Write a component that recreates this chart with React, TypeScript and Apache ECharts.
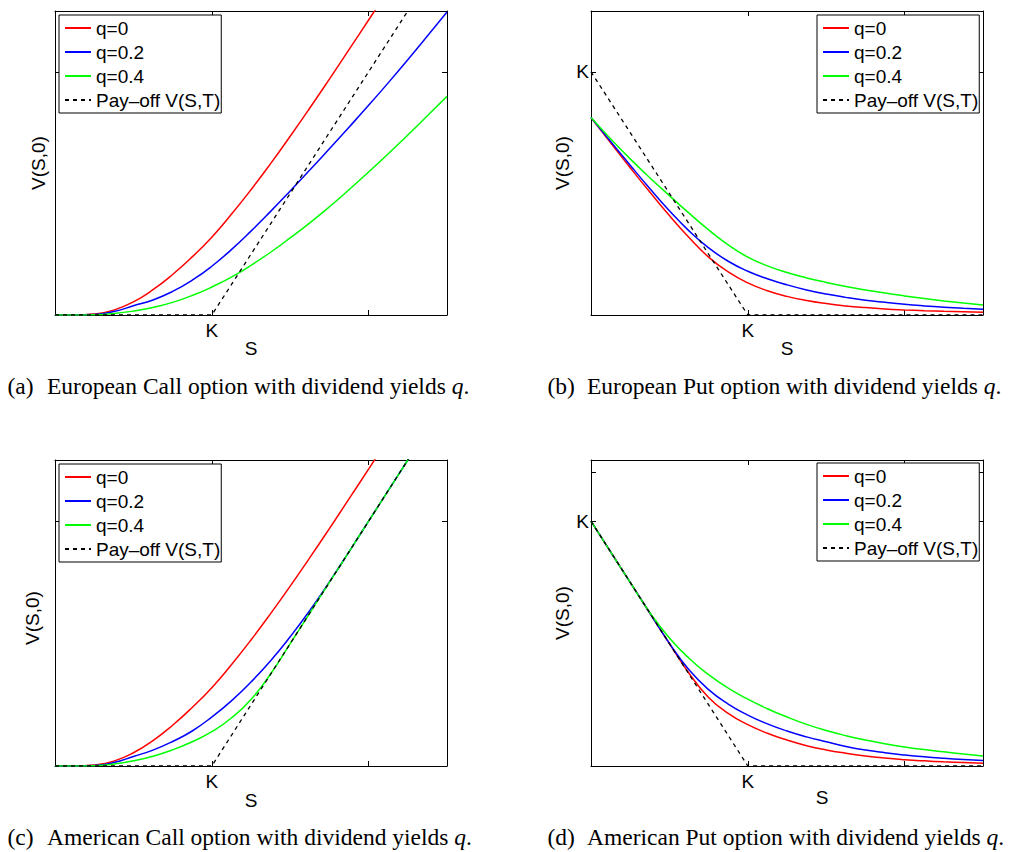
import React, { useEffect, useRef } from "react";
import * as echarts from "echarts";

// Stock price grid (S axis, K = 100)
const S = [0, 12.5, 25, 37.5, 50, 62.5, 75, 87.5, 100, 112.5, 125, 137.5, 150, 162.5, 175, 187.5, 200, 212.5, 225, 237.5, 250];

// (a) European call
const EU_CALL_Q0 = [0, 0, 0.4, 2.0, 5.4, 10.4, 16.65, 23.9, 32.0, 41.4, 51.5, 62.25, 73.5, 85.1, 97.0, 109.1, 121.3, 133.6, 145.95, 158.3, 170.7];
const EU_CALL_Q02 = [0, 0, 0.2, 1.4, 3.8, 6.2, 9.7, 14.3, 20.05, 26.9, 34.5, 42.6, 51.0, 59.6, 68.35, 77.2, 86.2, 95.45, 104.95, 114.7, 124.6];
const EU_CALL_Q04 = [0, 0, 0.1, 0.6, 1.6, 3.1, 5.2, 8.0, 11.5, 15.6, 20.4, 25.8, 31.7, 37.9, 44.5, 51.5, 58.8, 66.3, 74.0, 81.9, 89.9];

// (b) European put
const EU_PUT_Q0 = [81.2, 70.8, 60.55, 50.55, 40.9, 31.9, 23.8, 17.7, 13.2, 10.0, 7.65, 5.95, 4.7, 3.75, 3.05, 2.5, 2.1, 1.78, 1.52, 1.32, 1.15];
const EU_PUT_Q02 = [81.2, 71.3, 61.55, 52.0, 42.9, 34.6, 27.6, 22.1, 18.0, 14.9, 12.4, 10.3, 8.6, 7.25, 6.1, 5.2, 4.4, 3.75, 3.2, 2.75, 2.35];
const EU_PUT_Q04 = [81.2, 72.45, 64.2, 56.45, 49.1, 41.9, 35.0, 28.8, 23.8, 20.2, 17.45, 15.25, 13.4, 11.75, 10.3, 9.0, 7.85, 6.8, 5.8, 4.9, 4.1];

// (c) American call
const AM_CALL_Q0 = EU_CALL_Q0;
const AM_CALL_Q02 = [0, 0, 0.2, 1.4, 3.9, 6.5, 10.0, 14.3, 20.0, 26.6, 34.3, 43.0, 52.8, 63.5, 75.2, 87.5, 100, 112.5, 125, 137.5, 150];
const AM_CALL_Q04 = [0, 0, 0.15, 0.8, 2.1, 4.0, 6.6, 9.9, 14, 19.6, 27.2, 37.6, 50, 62.5, 75, 87.5, 100, 112.5, 125, 137.5, 150];

// (d) American put
const AM_PUT_Q0 = [100, 87.5, 75, 62.5, 50, 37.9, 28.0, 21.5, 16.9, 13.4, 10.6, 8.3, 6.55, 5.2, 4.1, 3.25, 2.6, 2.1, 1.7, 1.4, 1.15];
const AM_PUT_Q02 = [100, 87.5, 75, 62.5, 50.1, 39.3, 31.2, 25.3, 20.8, 17.2, 14.3, 11.9, 9.9, 8.0, 6.5, 5.4, 4.5, 3.75, 3.15, 2.65, 2.2];
const AM_PUT_Q04 = [100, 87.5, 75, 62.7, 52.3, 44.0, 37.3, 31.8, 27.3, 23.4, 20.0, 17.0, 14.5, 12.4, 10.6, 9.1, 7.8, 6.7, 5.8, 4.9, 4.1];

// Pay-off
const PAYOFF_S = [0, 100, 250];
const CALL_PAYOFF = [0, 0, 150];
const PUT_PAYOFF = [100, 0, 0];

const NAMES = ["q=0", "q=0.2", "q=0.4", "Pay\u2013off V(S,T)"];
const COLORS = ["#ff0000", "#0000ff", "#00ff00", "#000000"];
const CAPTIONS = [
  ["(a)", "European Call option with dividend yields {i|q}."],
  ["(b)", "European Put option with dividend yields {i|q}."],
  ["(c)", "American Call option with dividend yields {i|q}."],
  ["(d)", "American Put option with dividend yields {i|q}."],
];
const X_TICKS = [100, 200];
const Y_TICKS = [[100], [100], [100], [100, 120]];

export default function App() {
  const ref = useRef<HTMLDivElement>(null);
  useEffect(() => {
    if (!ref.current) return;
    const chart = echarts.init(ref.current, null, { renderer: "svg" });
    const grids = [
      { left: 55, top: 11, width: 392, height: 304 },
      { left: 591, top: 11, width: 392, height: 304 },
      { left: 55, top: 460, width: 392, height: 306 },
      { left: 591, top: 460, width: 392, height: 306 },
    ];
    const panels = [
      { curves: [EU_CALL_Q0, EU_CALL_Q02, EU_CALL_Q04], payoff: CALL_PAYOFF, put: false },
      { curves: [EU_PUT_Q0, EU_PUT_Q02, EU_PUT_Q04], payoff: PUT_PAYOFF, put: true },
      { curves: [AM_CALL_Q0, AM_CALL_Q02, AM_CALL_Q04], payoff: CALL_PAYOFF, put: false },
      { curves: [AM_PUT_Q0, AM_PUT_Q02, AM_PUT_Q04], payoff: PUT_PAYOFF, put: true },
    ];
    const font = "Liberation Sans";
    const axisLine = { show: true, onZero: false, lineStyle: { color: "#000", width: 1 } };
    const xAxes: any[] = [];
    const yAxes: any[] = [];
    const series: any[] = [];
    panels.forEach((p, i) => {
      const tickX = { show: true, inside: true, length: 5, customValues: X_TICKS, lineStyle: { color: "#000" } };
      const tickY = { show: true, inside: true, length: 5, customValues: Y_TICKS[i], lineStyle: { color: "#000" } };
      xAxes.push({
        type: "value", gridIndex: i, min: 0, max: 250, position: "bottom",
        axisLine, axisTick: tickX, splitLine: { show: false },
        axisLabel: { show: true, customValues: [100], formatter: () => "K", fontSize: 19, fontFamily: font, color: "#000", margin: 6 },
      });
      xAxes.push({
        type: "value", gridIndex: i, min: 0, max: 250, position: "top",
        axisLine, axisTick: tickX, splitLine: { show: false }, axisLabel: { show: false },
      });
      yAxes.push({
        type: "value", gridIndex: i, min: 0, max: 125, position: "left",
        axisLine, axisTick: tickY, splitLine: { show: false },
        axisLabel: p.put
          ? { show: true, customValues: [100], formatter: () => "K", fontSize: 19, fontFamily: font, color: "#000", margin: 2 }
          : { show: false },
      });
      yAxes.push({
        type: "value", gridIndex: i, min: 0, max: 125, position: "right",
        axisLine, axisTick: tickY, splitLine: { show: false }, axisLabel: { show: false },
      });
      p.curves.forEach((vals, k) => {
        series.push({
          type: "line", name: NAMES[k], xAxisIndex: 2 * i, yAxisIndex: 2 * i,
          data: S.map((s, j) => [s, vals[j]]), symbol: "none", smooth: 0.5,
          lineStyle: { color: COLORS[k], width: 1.5 }, itemStyle: { color: COLORS[k] }, clip: true,
        });
      });
      series.push({
        type: "line", name: NAMES[3], xAxisIndex: 2 * i, yAxisIndex: 2 * i,
        data: PAYOFF_S.map((s, j) => [s, p.payoff[j]]), symbol: "none",
        lineStyle: { color: "#000", width: 1.3, type: [4, 4] }, itemStyle: { color: "#000" }, clip: true,
      });
    });
    const legendPos = [
      { left: 59, top: 15 },
      { left: 817, top: 15 },
      { left: 59, top: 464 },
      { left: 817, top: 463 },
    ];
    const legends = legendPos.map((pos) => ({
      ...pos, orient: "vertical", data: NAMES, itemWidth: 26, itemHeight: 12, itemGap: 4,
      padding: [3, 1, 3, 5], borderColor: "#000", borderWidth: 1, backgroundColor: "#fff",
      itemStyle: { opacity: 0 },
      selectedMode: false, textStyle: { fontSize: 19, fontFamily: font, color: "#000", lineHeight: 20 },
    }));
    const yNames = [[38, 163], [562, 163], [32, 618], [562, 613]];
    const sNames = [[251, 348], [787, 348], [251, 800], [822, 797]];
    const capY = [386, 386, 837, 837];
    const capX = [7.5, 547.5, 7.5, 547.5];
    const graphic: any[] = [];
    for (let i = 0; i < 4; i++) {
      graphic.push({
        type: "text", x: yNames[i][0], y: yNames[i][1], rotation: Math.PI / 2,
        style: { text: "V(S,0)", fontSize: 19, fontFamily: font, fill: "#000", align: "center", verticalAlign: "middle" },
      });
      graphic.push({
        type: "text", x: sNames[i][0], y: sNames[i][1],
        style: { text: "S", fontSize: 19, fontFamily: font, fill: "#000", align: "center", verticalAlign: "middle" },
      });
      graphic.push({
        type: "text", x: capX[i], y: capY[i],
        style: { text: CAPTIONS[i][0], fontSize: 23.5, fontFamily: "Liberation Serif", fill: "#000", align: "left", verticalAlign: "middle" },
      });
      graphic.push({
        type: "text", x: capX[i] + 39.5, y: capY[i],
        style: {
          text: CAPTIONS[i][1], fontSize: 23.5, fontFamily: "Liberation Serif", fill: "#000", align: "left", verticalAlign: "middle",
          rich: { i: { fontSize: 23.5, fontFamily: "Liberation Serif", fontStyle: "italic", fill: "#000" } },
        },
      });
    }
    chart.setOption({
      animation: false,
      backgroundColor: "#fff",
      grid: grids,
      xAxis: xAxes,
      yAxis: yAxes,
      legend: legends,
      series,
      graphic,
    });
    return () => chart.dispose();
  }, []);
  return <div ref={ref} style={{ position: "fixed", left: 0, top: 0, width: 1011, height: 852 }} />;
}
